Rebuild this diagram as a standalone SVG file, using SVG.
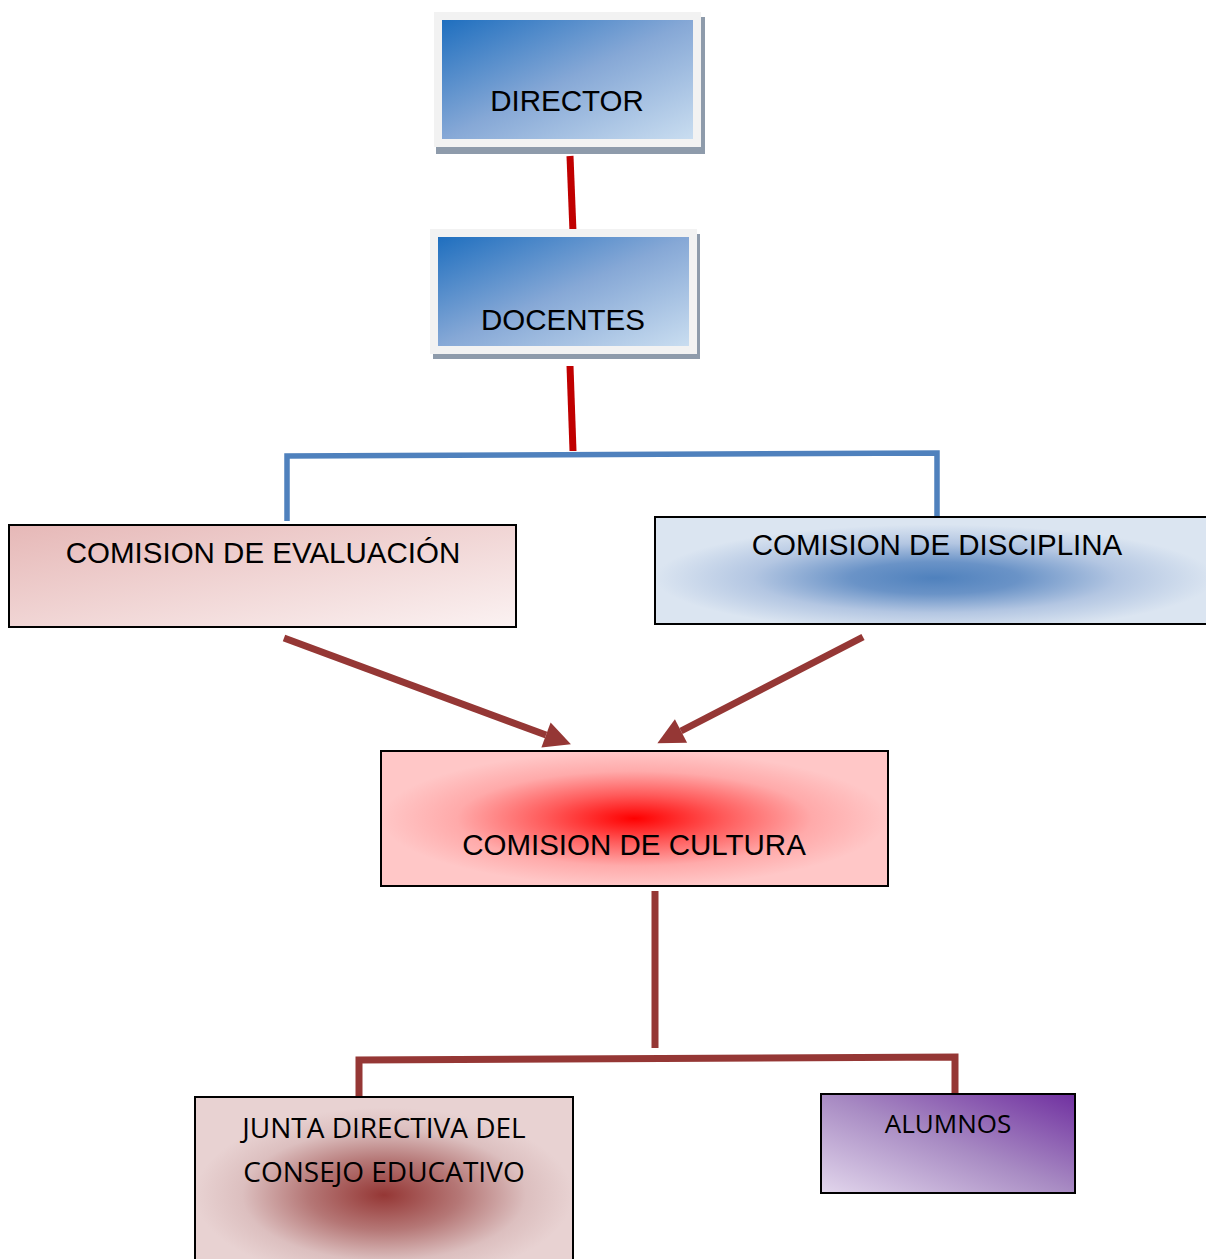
<svg xmlns="http://www.w3.org/2000/svg" width="1206" height="1259" viewBox="0 0 1206 1259">
<defs>
<style>
.t{font-family:"Liberation Sans",Arial,sans-serif;font-size:29.5px;fill:#000;text-anchor:middle}
.c{font-family:"Open Sans","Noto Sans",sans-serif;font-size:28px;fill:#000;text-anchor:middle}
.box{stroke:#000;stroke-width:2}
.red{stroke:#c00000;stroke-width:7;fill:none}
.blue{stroke:#4f81bd;stroke-width:5.5;fill:none}
.brn{stroke:#953735;stroke-width:7;fill:none}
</style>
<linearGradient id="gBlue" x1="0" y1="0" x2="1" y2="1">
<stop offset="0" stop-color="#1f6fbf"/>
<stop offset="0.5" stop-color="#86a8d6"/>
<stop offset="1" stop-color="#c9ddf0"/>
</linearGradient>
<linearGradient id="gEval" x1="0" y1="0" x2="1" y2="1">
<stop offset="0" stop-color="#e6b8b7"/>
<stop offset="1" stop-color="#fbf2f2"/>
</linearGradient>
<radialGradient id="gDisc" cx="0.5" cy="0.57" r="0.5">
<stop offset="0" stop-color="#4f81bd"/>
<stop offset="0.3" stop-color="#6a93c7"/>
<stop offset="0.65" stop-color="#b3c6e2"/>
<stop offset="1" stop-color="#dbe5f1"/>
</radialGradient>
<radialGradient id="gCult" cx="0.5" cy="0.5" r="0.5">
<stop offset="0" stop-color="#ff0000"/>
<stop offset="0.35" stop-color="#ff5a5a"/>
<stop offset="0.7" stop-color="#ffaaaa"/>
<stop offset="1" stop-color="#ffc7c7"/>
</radialGradient>
<radialGradient id="gJunta" cx="0.5" cy="0.56" r="0.5">
<stop offset="0" stop-color="#953735"/>
<stop offset="0.4" stop-color="#b57776"/>
<stop offset="0.75" stop-color="#dcbfbf"/>
<stop offset="1" stop-color="#e8d2d2"/>
</radialGradient>
<linearGradient id="gAlum" x1="1" y1="0" x2="0" y2="1">
<stop offset="0" stop-color="#7030a0"/>
<stop offset="0.5" stop-color="#a88bc3"/>
<stop offset="1" stop-color="#e2d6ec"/>
</linearGradient>
<marker id="ah" viewBox="0 0 10 10" refX="0" refY="5" markerWidth="4" markerHeight="3.8" orient="auto" markerUnits="strokeWidth">
<path d="M0,0 L10,5 L0,10 z" fill="#953735"/>
</marker>
</defs>

<g id="connectors">
<line class="red" x1="570" y1="156" x2="573" y2="232"/>
<line class="red" x1="570" y1="366" x2="573" y2="451"/>
<polyline class="blue" points="287,521 287,456 937,453 937,517"/>
<line class="brn" x1="284" y1="638" x2="546" y2="735" marker-end="url(#ah)"/>
<line class="brn" x1="863" y1="637" x2="681" y2="731" marker-end="url(#ah)"/>
<line class="brn" x1="655" y1="891" x2="655" y2="1048"/>
<polyline class="brn" points="359,1096 359,1060 955,1057 955,1094"/>
</g>

<g id="director">
<rect x="436" y="17" width="269" height="137" fill="#8e9bab"/>
<rect x="434" y="12" width="267" height="135" fill="#f2f2f2"/>
<rect x="442" y="20" width="251" height="119" fill="url(#gBlue)"/>
<text class="t" x="567" y="111">DIRECTOR</text>
</g>

<g id="docentes">
<rect x="433" y="234" width="267" height="125" fill="#8e9bab"/>
<rect x="430" y="229" width="267" height="125" fill="#f2f2f2"/>
<rect x="438" y="237" width="251" height="109" fill="url(#gBlue)"/>
<text class="t" x="563" y="330">DOCENTES</text>
</g>

<g id="evaluacion">
<rect class="box" x="9" y="525" width="507" height="102" fill="url(#gEval)"/>
<text class="t" x="263" y="563">COMISION DE EVALUACIÓN</text>
</g>

<g id="disciplina">
<rect class="box" x="655" y="517" width="560" height="107" fill="url(#gDisc)"/>
<text class="t" x="937" y="555">COMISION DE DISCIPLINA</text>
</g>

<g id="cultura">
<rect class="box" x="381" y="751" width="507" height="135" fill="url(#gCult)"/>
<text class="t" x="634" y="855">COMISION DE CULTURA</text>
</g>

<g id="junta">
<rect class="box" x="195" y="1097" width="378" height="175" fill="url(#gJunta)"/>
<text class="c" x="384" y="1138">JUNTA DIRECTIVA DEL</text>
<text class="c" x="384" y="1182">CONSEJO EDUCATIVO</text>
</g>

<g id="alumnos">
<rect class="box" x="821" y="1094" width="254" height="99" fill="url(#gAlum)"/>
<text class="c" x="948" y="1133" style="font-size:26px">ALUMNOS</text>
</g>
</svg>
